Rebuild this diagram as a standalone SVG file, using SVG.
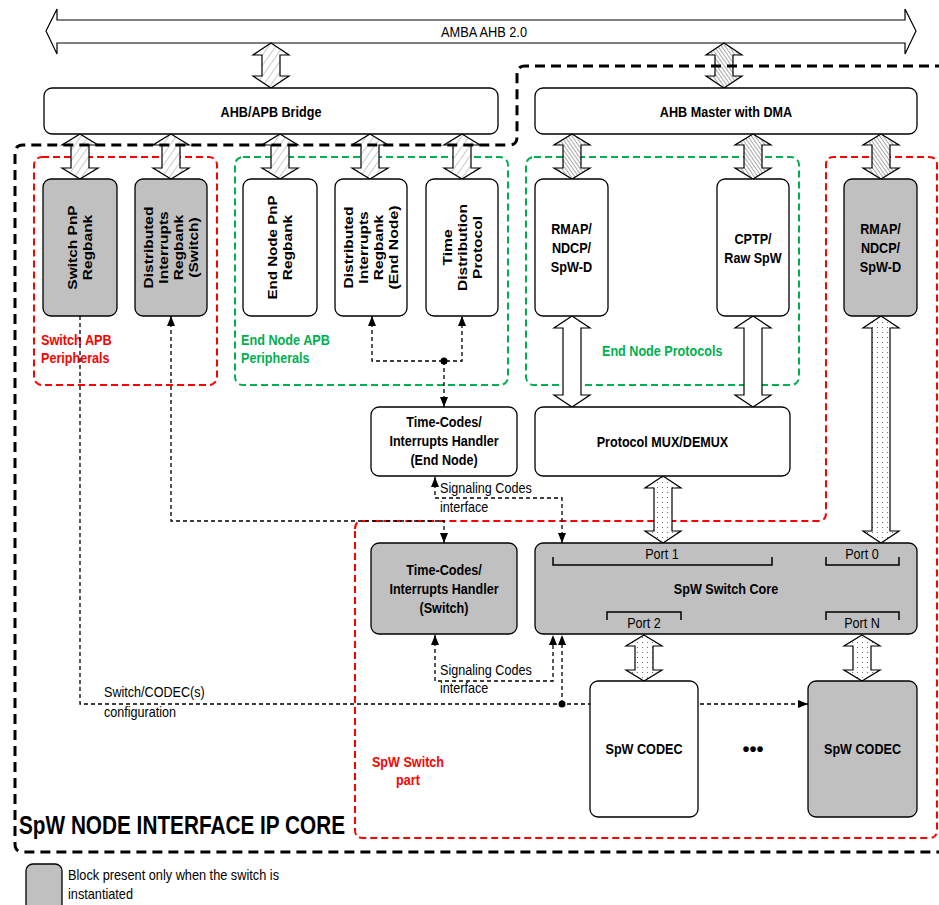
<svg xmlns="http://www.w3.org/2000/svg" width="939" height="905" viewBox="0 0 939 905">
<defs>
<style>
.blk{stroke:#000;stroke-width:1.3;fill:#fff}
.g{fill:#c0c0c0}
.b{font-family:"Liberation Sans",Arial,sans-serif;font-weight:bold;font-size:15px;fill:#000}
.n{font-family:"Liberation Sans",Arial,sans-serif;font-size:14.5px;fill:#000}
.v{font-family:"Liberation Sans",Arial,sans-serif;font-weight:bold;font-size:12.8px;fill:#000}
.t{font-family:"Liberation Sans",Arial,sans-serif;font-weight:bold;font-size:25px;fill:#000}
.dots{font-family:"Liberation Sans",Arial,sans-serif;font-weight:bold;font-size:20px;fill:#000}
.red{fill:#ff0000}
.grn{fill:#00b050}
.cred{fill:none;stroke:#ff0000;stroke-width:2;stroke-dasharray:7 4}
.cgrn{fill:none;stroke:#00b050;stroke-width:2;stroke-dasharray:7 4}
.cblk{fill:none;stroke:#000;stroke-width:3;stroke-dasharray:10 6}
.dl{fill:none;stroke:#000;stroke-width:1.3;stroke-dasharray:4 3}
.ar{stroke:#000;stroke-width:1.2}
</style>
<pattern id="hl" patternUnits="userSpaceOnUse" width="6" height="6" patternTransform="rotate(35)">
<rect width="6" height="6" fill="#fff"/><line x1="0" y1="0" x2="0" y2="6" stroke="#a6a6a6" stroke-width="1.2"/>
</pattern>
<pattern id="hd" patternUnits="userSpaceOnUse" width="3" height="3" patternTransform="rotate(-35)">
<rect width="3" height="3" fill="#fff"/><line x1="0" y1="0" x2="0" y2="3" stroke="#7a7a7a" stroke-width="1.3"/>
</pattern>
<pattern id="dt" patternUnits="userSpaceOnUse" width="5" height="5">
<rect width="5" height="5" fill="#fff"/><circle cx="2.5" cy="2.5" r="0.6" fill="#555"/>
</pattern>
<marker id="ah" viewBox="0 0 10 8" refX="10" refY="4" markerWidth="10" markerHeight="8" markerUnits="userSpaceOnUse" orient="auto-start-reverse">
<path d="M0,0 L10,4 L0,8 z" fill="#000"/>
</marker>
</defs>
<rect width="939" height="905" fill="#fff"/>

<g id="containers">
<rect class="cred" x="34" y="157" width="183" height="228" rx="8"/>
<rect class="cgrn" x="235" y="157" width="273" height="228" rx="8"/>
<rect class="cgrn" x="526" y="157" width="273" height="228" rx="8"/>
<path class="cred" d="M355,529 Q355,521 363,521 H818 Q826,521 826,513 V165 Q826,157 834,157 H929 Q937,157 937,165 V830 Q937,838 929,838 H363 Q355,838 355,830 Z"/>
<text class="b red" x="41" y="345" textLength="70.7" lengthAdjust="spacingAndGlyphs">Switch APB</text>
<text class="b red" x="41" y="363" textLength="68.6" lengthAdjust="spacingAndGlyphs">Peripherals</text>
<text class="b grn" x="241" y="345" textLength="88.9" lengthAdjust="spacingAndGlyphs">End Node APB</text>
<text class="b grn" x="241" y="363" textLength="68.6" lengthAdjust="spacingAndGlyphs">Peripherals</text>
<text class="b grn" x="602" y="356" textLength="120.4" lengthAdjust="spacingAndGlyphs">End Node Protocols</text>
<text class="b red" x="408" y="767" text-anchor="middle" textLength="72.1" lengthAdjust="spacingAndGlyphs">SpW Switch</text>
<text class="b red" x="408" y="785" text-anchor="middle" textLength="23.8" lengthAdjust="spacingAndGlyphs">part</text>
</g>

<g id="connectors">
<path class="dl" d="M80,316 V704 H808" marker-end="url(#ah)"/>
<path class="dl" d="M562,704 V635" marker-end="url(#ah)"/>
<circle cx="562" cy="704" r="3.5" fill="#000"/>
<path class="dl" d="M435,635 V681 H553 V635" marker-start="url(#ah)" marker-end="url(#ah)"/>
<path class="dl" d="M435,477 V498 H562 V543" marker-start="url(#ah)" marker-end="url(#ah)"/>
<path class="dl" d="M171,316 V521 H444 V543" marker-start="url(#ah)" marker-end="url(#ah)"/>
<path class="dl" d="M372,316 V361 H462 V316" marker-start="url(#ah)" marker-end="url(#ah)"/>
<path class="dl" d="M444,361 V407" marker-end="url(#ah)"/>
<circle cx="444" cy="361" r="3.5" fill="#000"/>
<text class="n" x="440" y="493" textLength="91.7" lengthAdjust="spacingAndGlyphs">Signaling Codes</text>
<text class="n" x="440" y="512" textLength="48.3" lengthAdjust="spacingAndGlyphs">interface</text>
<text class="n" x="440" y="675" textLength="91.7" lengthAdjust="spacingAndGlyphs">Signaling Codes</text>
<text class="n" x="440" y="693" textLength="48.3" lengthAdjust="spacingAndGlyphs">interface</text>
<text class="n" x="104" y="697" textLength="100.8" lengthAdjust="spacingAndGlyphs">Switch/CODEC(s)</text>
<text class="n" x="104" y="717" textLength="72.1" lengthAdjust="spacingAndGlyphs">configuration</text>
</g>

<g id="bus-arrows">
<path class="ar" fill="#fff" d="M46,31 L57,9 L57,20 L905,20 L905,9 L916,31 L905,54 L905,43 L57,43 L57,54 Z"/>
<text class="n" x="484" y="37" text-anchor="middle" textLength="86" lengthAdjust="spacingAndGlyphs">AMBA AHB 2.0</text>
<path class="ar" fill="url(#hl)" d="M271,43 L289,55 L280,55 L280,76 L289,76 L271,88 L253,76 L262,76 L262,55 L253,55 Z"/>
<path class="ar" fill="url(#hd)" d="M724,43 L742,55 L733,55 L733,76 L742,76 L724,88 L706,76 L715,76 L715,55 L706,55 Z"/>
<path class="ar" fill="url(#hl)" d="M80,134 L98,145 L89,145 L89,168 L98,168 L80,179 L62,168 L71,168 L71,145 L62,145 Z"/>
<path class="ar" fill="url(#hl)" d="M171,134 L189,145 L180,145 L180,168 L189,168 L171,179 L153,168 L162,168 L162,145 L153,145 Z"/>
<path class="ar" fill="url(#hl)" d="M280,134 L298,145 L289,145 L289,168 L298,168 L280,179 L262,168 L271,168 L271,145 L262,145 Z"/>
<path class="ar" fill="url(#hl)" d="M370,134 L388,145 L379,145 L379,168 L388,168 L370,179 L352,168 L361,168 L361,145 L352,145 Z"/>
<path class="ar" fill="url(#hl)" d="M462,134 L480,145 L471,145 L471,168 L480,168 L462,179 L444,168 L453,168 L453,145 L444,145 Z"/>
<path class="ar" fill="url(#hd)" d="M572,134 L590,145 L581,145 L581,168 L590,168 L572,179 L554,168 L563,168 L563,145 L554,145 Z"/>
<path class="ar" fill="url(#hd)" d="M753,134 L771,145 L762,145 L762,168 L771,168 L753,179 L735,168 L744,168 L744,145 L735,145 Z"/>
<path class="ar" fill="url(#hd)" d="M881,134 L899,145 L890,145 L890,168 L899,168 L881,179 L863,168 L872,168 L872,145 L863,145 Z"/>
<path class="ar" fill="#fff" d="M572,316 L590,328 L581,328 L581,395 L590,395 L572,407 L554,395 L563,395 L563,328 L554,328 Z"/>
<path class="ar" fill="#fff" d="M753,316 L771,328 L762,328 L762,395 L771,395 L753,407 L735,395 L744,395 L744,328 L735,328 Z"/>
<path class="ar" fill="url(#dt)" d="M663,476 L681,488 L672,488 L672,531 L681,531 L663,543 L645,531 L654,531 L654,488 L645,488 Z"/>
<path class="ar" fill="url(#dt)" d="M881,316 L899,328 L890,328 L890,531 L899,531 L881,543 L863,531 L872,531 L872,328 L863,328 Z"/>
<path class="ar" fill="url(#dt)" d="M644,635 L662,646 L653,646 L653,670 L662,670 L644,681 L626,670 L635,670 L635,646 L626,646 Z"/>
<path class="ar" fill="url(#dt)" d="M862,635 L880,646 L871,646 L871,670 L880,670 L862,681 L844,670 L853,670 L853,646 L844,646 Z"/>
</g>

<g id="ahb-apb-bridge">
<rect class="blk" x="44" y="88" width="454" height="46" rx="8"/>
<text class="b" x="271" y="117" text-anchor="middle" textLength="100.8" lengthAdjust="spacingAndGlyphs">AHB/APB Bridge</text>
</g>
<g id="ahb-master">
<rect class="blk" x="535" y="88" width="382" height="46" rx="8"/>
<text class="b" x="726" y="117" text-anchor="middle" textLength="132.3" lengthAdjust="spacingAndGlyphs">AHB Master with DMA</text>
</g>

<g id="switch-pnp-regbank">
<rect class="blk g" x="43" y="179" width="74" height="137" rx="8"/>
<text class="v" transform="translate(77,247.5) rotate(-90)" text-anchor="middle" textLength="84.4" lengthAdjust="spacingAndGlyphs">Switch PnP</text>
<text class="v" transform="translate(92,247.5) rotate(-90)" text-anchor="middle" textLength="65.5" lengthAdjust="spacingAndGlyphs">Regbank</text>
</g>
<g id="dist-int-switch">
<rect class="blk g" x="135" y="179" width="72" height="137" rx="8"/>
<text class="v" transform="translate(153,247.5) rotate(-90)" text-anchor="middle" textLength="81.8" lengthAdjust="spacingAndGlyphs">Distributed</text>
<text class="v" transform="translate(168,247.5) rotate(-90)" text-anchor="middle" textLength="72.3" lengthAdjust="spacingAndGlyphs">Interrupts</text>
<text class="v" transform="translate(183,247.5) rotate(-90)" text-anchor="middle" textLength="65.5" lengthAdjust="spacingAndGlyphs">Regbank</text>
<text class="v" transform="translate(198,247.5) rotate(-90)" text-anchor="middle" textLength="60.3" lengthAdjust="spacingAndGlyphs">(Switch)</text>
</g>
<g id="endnode-pnp-regbank">
<rect class="blk" x="243" y="179" width="74" height="137" rx="8"/>
<text class="v" transform="translate(277,247.5) rotate(-90)" text-anchor="middle" textLength="104" lengthAdjust="spacingAndGlyphs">End Node PnP</text>
<text class="v" transform="translate(292,247.5) rotate(-90)" text-anchor="middle" textLength="65.5" lengthAdjust="spacingAndGlyphs">Regbank</text>
</g>
<g id="dist-int-endnode">
<rect class="blk" x="335" y="179" width="72" height="137" rx="8"/>
<text class="v" transform="translate(353,247.5) rotate(-90)" text-anchor="middle" textLength="81.8" lengthAdjust="spacingAndGlyphs">Distributed</text>
<text class="v" transform="translate(368,247.5) rotate(-90)" text-anchor="middle" textLength="72.3" lengthAdjust="spacingAndGlyphs">Interrupts</text>
<text class="v" transform="translate(383,247.5) rotate(-90)" text-anchor="middle" textLength="65.5" lengthAdjust="spacingAndGlyphs">Regbank</text>
<text class="v" transform="translate(398,247.5) rotate(-90)" text-anchor="middle" textLength="84" lengthAdjust="spacingAndGlyphs">(End Node)</text>
</g>
<g id="time-dist-protocol">
<rect class="blk" x="426" y="179" width="72" height="137" rx="8"/>
<text class="v" transform="translate(451.5,247.5) rotate(-90)" text-anchor="middle" textLength="36.2" lengthAdjust="spacingAndGlyphs">Time</text>
<text class="v" transform="translate(466.5,247.5) rotate(-90)" text-anchor="middle" textLength="87" lengthAdjust="spacingAndGlyphs">Distribution</text>
<text class="v" transform="translate(481.5,247.5) rotate(-90)" text-anchor="middle" textLength="62.9" lengthAdjust="spacingAndGlyphs">Protocol</text>
</g>

<g id="rmap-endnode">
<rect class="blk" x="535" y="179" width="73" height="137" rx="8"/>
<text class="b" x="571.5" y="234" text-anchor="middle" textLength="40.6" lengthAdjust="spacingAndGlyphs">RMAP/</text>
<text class="b" x="571.5" y="253" text-anchor="middle" textLength="39.2" lengthAdjust="spacingAndGlyphs">NDCP/</text>
<text class="b" x="571.5" y="272" text-anchor="middle" textLength="41.3" lengthAdjust="spacingAndGlyphs">SpW-D</text>
</g>
<g id="cptp">
<rect class="blk" x="717" y="179" width="72" height="137" rx="8"/>
<text class="b" x="753" y="243.5" text-anchor="middle" textLength="37.1" lengthAdjust="spacingAndGlyphs">CPTP/</text>
<text class="b" x="753" y="262.5" text-anchor="middle" textLength="57.4" lengthAdjust="spacingAndGlyphs">Raw SpW</text>
</g>
<g id="rmap-switch">
<rect class="blk g" x="844" y="179" width="73" height="137" rx="8"/>
<text class="b" x="880.5" y="234" text-anchor="middle" textLength="40.6" lengthAdjust="spacingAndGlyphs">RMAP/</text>
<text class="b" x="880.5" y="253" text-anchor="middle" textLength="39.2" lengthAdjust="spacingAndGlyphs">NDCP/</text>
<text class="b" x="880.5" y="272" text-anchor="middle" textLength="41.3" lengthAdjust="spacingAndGlyphs">SpW-D</text>
</g>

<g id="tc-handler-endnode">
<rect class="blk" x="371" y="407" width="146" height="69" rx="8"/>
<text class="b" x="444" y="427" text-anchor="middle" textLength="75.6" lengthAdjust="spacingAndGlyphs">Time-Codes/</text>
<text class="b" x="444" y="446" text-anchor="middle" textLength="109.2" lengthAdjust="spacingAndGlyphs">Interrupts Handler</text>
<text class="b" x="444" y="465" text-anchor="middle" textLength="67.2" lengthAdjust="spacingAndGlyphs">(End Node)</text>
</g>
<g id="protocol-mux">
<rect class="blk" x="535" y="407" width="255" height="69" rx="8"/>
<text class="b" x="662.5" y="447" text-anchor="middle" textLength="131.6" lengthAdjust="spacingAndGlyphs">Protocol MUX/DEMUX</text>
</g>

<g id="tc-handler-switch">
<rect class="blk g" x="371" y="543" width="146" height="91" rx="8"/>
<text class="b" x="444" y="575" text-anchor="middle" textLength="75.6" lengthAdjust="spacingAndGlyphs">Time-Codes/</text>
<text class="b" x="444" y="594" text-anchor="middle" textLength="109.2" lengthAdjust="spacingAndGlyphs">Interrupts Handler</text>
<text class="b" x="444" y="613" text-anchor="middle" textLength="49" lengthAdjust="spacingAndGlyphs">(Switch)</text>
</g>
<g id="switch-core">
<rect class="blk g" x="535" y="543" width="382" height="91" rx="8"/>
<path d="M553,557 V565 H772 V557 M826,557 V565 H899 V557 M607,620 V612 H681 V620 M826,620 V612 H899 V620" fill="none" stroke="#000" stroke-width="1.5"/>
<text class="n" x="662" y="559" text-anchor="middle" textLength="33.6" lengthAdjust="spacingAndGlyphs">Port 1</text>
<text class="n" x="862" y="559" text-anchor="middle" textLength="33.6" lengthAdjust="spacingAndGlyphs">Port 0</text>
<text class="n" x="644" y="628" text-anchor="middle" textLength="33.6" lengthAdjust="spacingAndGlyphs">Port 2</text>
<text class="n" x="862" y="628" text-anchor="middle" textLength="35.7" lengthAdjust="spacingAndGlyphs">Port N</text>
<text class="b" x="726" y="594" text-anchor="middle" textLength="104.3" lengthAdjust="spacingAndGlyphs">SpW Switch Core</text>
</g>
<g id="codec-1">
<rect class="blk" x="590" y="681" width="108" height="136" rx="8"/>
<text class="b" x="644" y="754" text-anchor="middle" textLength="77" lengthAdjust="spacingAndGlyphs">SpW CODEC</text>
</g>
<text class="dots" x="753" y="756" text-anchor="middle">•••</text>
<g id="codec-n">
<rect class="blk g" x="808" y="681" width="109" height="136" rx="8"/>
<text class="b" x="862.5" y="754" text-anchor="middle" textLength="77" lengthAdjust="spacingAndGlyphs">SpW CODEC</text>
</g>

<g id="ip-core-boundary">
<path class="cblk" d="M945,66 H525 Q517,66 517,74 V137 Q517,145 509,145 H23 Q15,145 15,153 V844 Q15,852 23,852 H945"/>
<text class="t" x="19" y="834" textLength="326" lengthAdjust="spacingAndGlyphs">SpW NODE INTERFACE IP CORE</text>
</g>

<g id="legend">
<rect class="blk g" x="26" y="864" width="36" height="50" rx="7"/>
<text class="n" x="68" y="880" textLength="211" lengthAdjust="spacingAndGlyphs">Block present only when the switch is</text>
<text class="n" x="68" y="899" textLength="65" lengthAdjust="spacingAndGlyphs">instantiated</text>
</g>
</svg>
